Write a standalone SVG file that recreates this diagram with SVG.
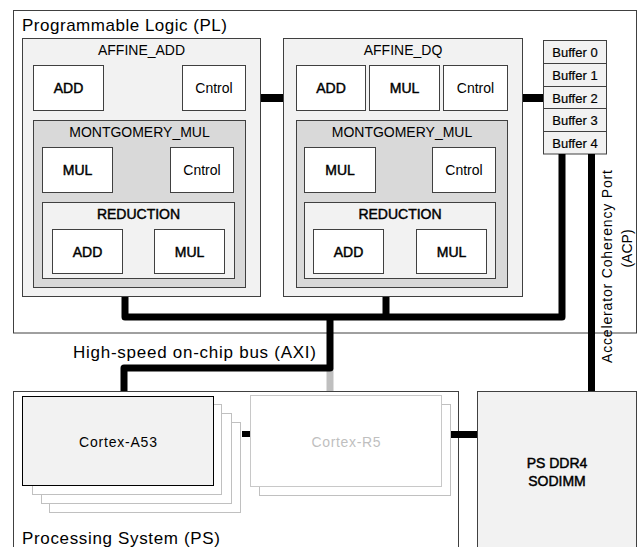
<svg xmlns="http://www.w3.org/2000/svg" width="641" height="547" viewBox="0 0 641 547">
<style>
text{font-family:"Liberation Sans",Arial,sans-serif;fill:#000}
.box{stroke:#404040;stroke-width:1}
.w{fill:#fff}
.l{fill:#f2f2f2}
.m{fill:#d9d9d9}
.lbl{font-size:14px;text-anchor:middle}
.b{stroke:#000;stroke-width:0.45}
.big{font-size:17px}
.buf{font-size:13px;text-anchor:middle;stroke:#000;stroke-width:0.2}
.bus{fill:none;stroke:#000;stroke-width:7;stroke-linejoin:round}
.sh{fill:#fff;stroke:#c0c0c0}
</style>
<rect width="641" height="547" fill="#fff"/>
<g id="pl">
<rect class="box w" x="13.5" y="10.5" width="623" height="322.5"/>
<text class="big" x="22" y="31" textLength="205">Programmable Logic (PL)</text>
</g>
<g id="affine_add">
<rect class="box l" x="22.5" y="38.5" width="238" height="258"/>
<text class="lbl" x="141.5" y="55">AFFINE_ADD</text>
<rect class="box w" x="33.5" y="65.5" width="70" height="45"/>
<text class="lbl b" x="68.5" y="93">ADD</text>
<rect class="box w" x="182.5" y="65.5" width="63" height="45"/>
<text class="lbl" x="214" y="93">Cntrol</text>
<rect class="box m" x="33.5" y="120.5" width="212" height="167"/>
<text class="lbl" x="139.5" y="137">MONTGOMERY_MUL</text>
<rect class="box w" x="42.5" y="147.5" width="70" height="45"/>
<text class="lbl b" x="77.5" y="175">MUL</text>
<rect class="box w" x="170.5" y="147.5" width="63" height="45"/>
<text class="lbl" x="202" y="175">Cntrol</text>
<rect class="box l" x="42.5" y="202.5" width="192" height="76"/>
<text class="lbl b" x="138.5" y="219">REDUCTION</text>
<rect class="box w" x="52.5" y="229.5" width="70" height="44"/>
<text class="lbl b" x="87.5" y="257">ADD</text>
<rect class="box w" x="154.5" y="229.5" width="70" height="44"/>
<text class="lbl b" x="189.5" y="257">MUL</text>
</g>
<g id="affine_dq">
<rect class="box l" x="283.5" y="38.5" width="239" height="258"/>
<text class="lbl" x="403" y="55">AFFINE_DQ</text>
<rect class="box w" x="296.5" y="65.5" width="69" height="45"/>
<text class="lbl b" x="331" y="93">ADD</text>
<rect class="box w" x="369.5" y="65.5" width="70" height="45"/>
<text class="lbl b" x="404.5" y="93">MUL</text>
<rect class="box w" x="443.5" y="65.5" width="64" height="45"/>
<text class="lbl" x="475.5" y="93">Cntrol</text>
<rect class="box m" x="296.5" y="120.5" width="211" height="167"/>
<text class="lbl" x="402" y="137">MONTGOMERY_MUL</text>
<rect class="box w" x="304.5" y="147.5" width="71" height="45"/>
<text class="lbl b" x="340" y="175">MUL</text>
<rect class="box w" x="432.5" y="147.5" width="63" height="45"/>
<text class="lbl" x="464" y="175">Cntrol</text>
<rect class="box l" x="304.5" y="202.5" width="191" height="76"/>
<text class="lbl b" x="400" y="219">REDUCTION</text>
<rect class="box w" x="313.5" y="229.5" width="70" height="44"/>
<text class="lbl b" x="348.5" y="257">ADD</text>
<rect class="box w" x="416.5" y="229.5" width="70" height="44"/>
<text class="lbl b" x="451.5" y="257">MUL</text>
</g>
<g id="buffers">
<rect class="box l" x="543.5" y="40.5" width="63" height="23"/>
<text class="buf" x="575" y="56.5">Buffer 0</text>
<rect class="box l" x="543.5" y="63.5" width="63" height="23"/>
<text class="buf" x="575" y="79.5">Buffer 1</text>
<rect class="box l" x="543.5" y="86.5" width="63" height="22"/>
<text class="buf" x="575" y="102.5">Buffer 2</text>
<rect class="box l" x="543.5" y="108.5" width="63" height="23"/>
<text class="buf" x="575" y="124.5">Buffer 3</text>
<rect class="box l" x="543.5" y="131.5" width="63" height="22.5"/>
<text class="buf" x="575" y="147.5">Buffer 4</text>
</g>
<g id="ps">
<rect class="box w" x="13.5" y="391.5" width="445" height="200"/>
<text class="big" x="22" y="544" textLength="198">Processing System (PS)</text>
</g>
<g id="cortex_a53">
<rect class="sh" x="49.5" y="422.5" width="191" height="90"/>
<rect class="sh" x="41.5" y="413.5" width="190" height="90"/>
<rect class="sh" x="32.5" y="404.5" width="189" height="90"/>
<rect x="22.5" y="396.5" width="191" height="89" fill="#f2f2f2" stroke="#000"/>
<text class="lbl" x="118" y="447" textLength="78">Cortex-A53</text>
</g>
<g id="cortex_r5">
<rect class="sh" x="259.5" y="404.5" width="191" height="91"/>
<rect x="250.5" y="395.5" width="191" height="91" fill="#fff" stroke="#c8c8c8"/>
<text class="lbl" x="346" y="447" textLength="69" style="fill:#bfbfbf">Cortex-R5</text>
</g>
<g id="ddr4">
<rect class="box l" x="477.5" y="391.5" width="159" height="200"/>
<text class="lbl b" x="557" y="468">PS DDR4</text>
<text class="lbl b" x="557" y="486">SODIMM</text>
</g>
<g id="connectors">
<path d="M330 368V391" fill="none" stroke="#bfbfbf" stroke-width="7"/>
<rect x="261" y="94" width="22" height="8"/>
<rect x="523" y="94" width="20" height="8"/>
<path class="bus" d="M125 297V317H562V154"/>
<path class="bus" d="M386 297V317"/>
<path class="bus" d="M330 317V368H124V391"/>
<path class="bus" d="M591.5 154V391" stroke-linejoin="miter"/>
<rect x="242" y="431" width="8" height="6"/>
<rect x="451" y="431" width="26" height="7"/>
</g>
<g id="labels">
<text class="big" x="73" y="358" textLength="243">High-speed on-chip bus (AXI)</text>
<text font-size="14" text-anchor="middle" transform="translate(612 266.5) rotate(-90)" textLength="193">Accelerator Coherency  Port</text>
<text font-size="14" text-anchor="middle" transform="translate(632 248.5) rotate(-90)">(ACP)</text>
</g>
</svg>
